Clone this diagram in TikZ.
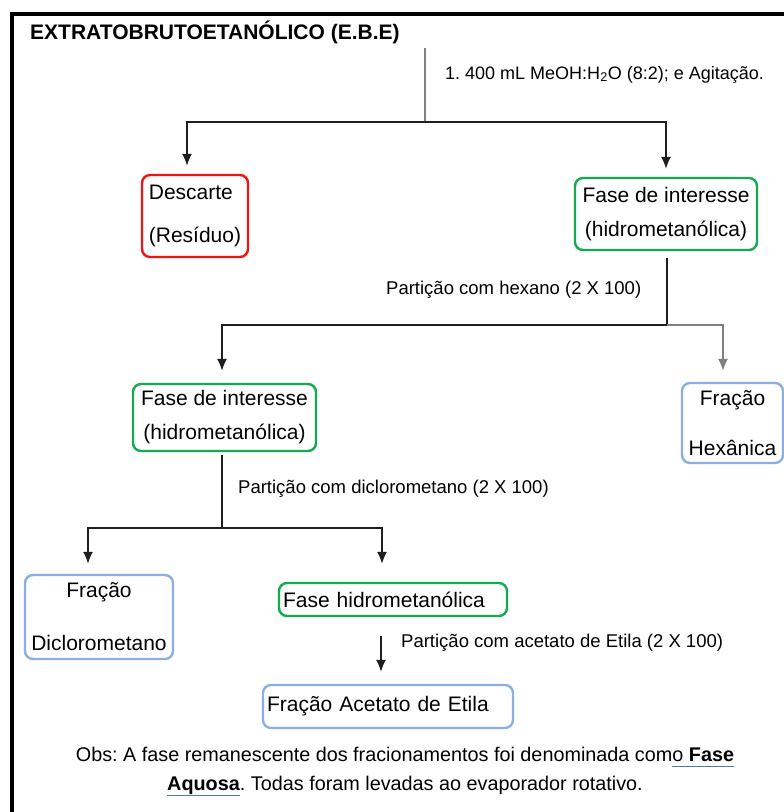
\documentclass[tikz,border=0pt]{standalone}
\usepackage{fontspec}
\setmainfont{Liberation Sans}
\usetikzlibrary{arrows.meta}
\definecolor{descred}{RGB}{240,20,20}
\definecolor{fasegreen}{RGB}{20,170,80}
\definecolor{fracblue}{RGB}{140,175,225}
\definecolor{linha}{RGB}{30,30,30}
\definecolor{sublinha}{RGB}{80,120,190}
\newcommand{\azul}[1]{\setbox0\hbox{#1}\rlap{\color{sublinha}\rule[-6pt]{\wd0}{1.3pt}}\box0}
\frenchspacing
\tikzset{
etapa/.style    = {shape=rectangle, rounded corners=8pt, draw,
                   line width=2.4pt, align=center, inner sep=0pt,
                   font=\fontsize{21}{25}\selectfont},
descarte/.style = {etapa, draw=descred},
fase/.style     = {etapa, draw=fasegreen},
fracao/.style   = {etapa, draw=fracblue},
rotulo/.style   = {anchor=base west, inner sep=0pt,
                   font=\fontsize{18.5}{22}\selectfont},
fio/.style      = {draw=linha, line width=1.4pt},
seta/.style     = {fio, -{Latex[length=12pt,width=10pt]}}
}

\begin{document}
\begin{tikzpicture}[x=1pt, y=-1pt]
\useasboundingbox (0,0) rectangle (784,812);
\draw[line width=4pt] (12,812) -- (12,14) -- (784,14);

\node[anchor=base west, inner sep=0pt, font=\bfseries\fontsize{21}{25}\selectfont]
  (ebe) at (30,39) {EXTRATOBRUTOETANÓLICO (E.B.E)};
\node[rotulo, font=\fontsize{18}{22}\selectfont] (agit) at (445,79) {1. 400 mL MeOH:H\textsubscript{2}O (8:2); e Agitação.};

\node[descarte, minimum width=106pt, minimum height=82pt, align=left,
      font=\fontsize{21}{43}\selectfont] (descarte) at (195,216) {Descarte\\(Resíduo)};
\node[fase, minimum width=182pt, minimum height=72pt,
      font=\fontsize{21}{34}\selectfont] (fase1) at (666,214) {Fase de interesse\\(hidrometanólica)};

\node[rotulo] (hexano) at (386,294) {Partição com hexano (2 X 100)};

\node[fase, minimum width=183pt, minimum height=67pt,
      font=\fontsize{21}{34}\selectfont] (fase2) at (224.5,417.5) {Fase de interesse\\(hidrometanólica)};
\node[fracao, minimum width=101pt, minimum height=80pt,
      font=\fontsize{21}{50}\selectfont] (hexanica) at (732.5,423) {Fração\\Hexânica};

\node[rotulo] (dicloro) at (238,493) {Partição com diclorometano (2 X 100)};

\node[fracao, minimum width=148pt, minimum height=84pt,
      font=\fontsize{21}{53}\selectfont] (fdicloro) at (99,617) {Fração\\Diclorometano};
\node[fase, text width=220pt, inner xsep=4pt, align=left,
      minimum height=33pt] (hidro) at (393,599.5) {Fase hidrometanólica};

\node[rotulo] (acet) at (401,647) {Partição com acetato de Etila (2 X 100)};

\node[fracao, text width=242pt, inner xsep=4pt, align=left,
      minimum height=43pt] (acetato) at (388,706.5) {Fração Acetato de Etila};

\node[align=center, inner sep=0pt, font=\fontsize{19.8}{29}\selectfont] (obs) at (405,771.5)
  {Obs: A fase remanescente dos fracionamentos foi denominada com\azul{o \textbf{Fase}}\\
   \azul{\textbf{Aquosa}}. Todas foram levadas ao evaporador rotativo.};

% extrato -> descarte / fase de interesse
\coordinate (topo) at (425,48);
\coordinate (j1) at (425,122);
\draw[fio, draw=gray] (topo) -- (j1);
\draw[seta] (j1) -| ([xshift=-8pt,yshift=8pt]descarte.north);
\draw[seta] (j1) -| ([yshift=8pt]fase1.north);

% hexano
\coordinate (j2) at (667,325);
\draw[fio] ([xshift=1pt,yshift=-7pt]fase1.south) -- (j2);
\draw[seta] (j2) -| ([xshift=-2.5pt,yshift=12pt]fase2.north);
\draw[seta, draw=gray] (j2) -| ([xshift=-9.5pt,yshift=11pt]hexanica.north);

% diclorometano
\coordinate (j3) at (222,528);
\draw[fio] ([xshift=-2.5pt,yshift=-3pt]fase2.south) -- (j3);
\draw[seta] (j3) -| ([xshift=-11pt,yshift=10pt]fdicloro.north);
\draw[seta] (j3) -| ([xshift=-11pt,yshift=18pt]hidro.north);

% acetato de etila
\draw[seta] ([xshift=-12pt,yshift=-19pt]hidro.south) -- ([xshift=-7pt,yshift=12pt]acetato.north);
\end{tikzpicture}
\end{document}
